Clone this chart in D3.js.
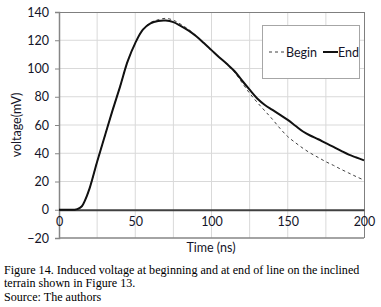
<!DOCTYPE html>
<html>
<head>
<meta charset="utf-8">
<script src="https://cdn.jsdelivr.net/npm/d3@7"></script>
<style>
  html, body { margin: 0; padding: 0; background: #fff; }
  svg { display: block; }
</style>
</head>
<body>
<svg id="chart" width="381" height="307"></svg>
<script>
// ---- data ----
const timeNs = [0, 5, 10, 12, 15, 17, 20, 25, 30, 35, 40, 45, 50, 55, 60, 65, 70, 75, 80, 85, 90, 95, 100, 105, 110, 115, 120, 125, 130, 135, 140, 145, 150, 155, 160, 165, 170, 175, 180, 185, 190, 195, 200];
const endValues = [0, 0, 0, 0.4, 2.5, 6.5, 15, 34, 52, 70, 87, 105, 118, 127.5, 132, 133.7, 134, 132.8, 130, 126.8, 122.8, 118, 113, 108, 103.3, 98.2, 91.5, 85, 78.8, 74.2, 70.7, 67.2, 63.6, 59.5, 55.4, 52.4, 49.9, 47.1, 44.5, 41.7, 39, 37, 35];
const beginValues = [0, 0, 0, 0.4, 2.5, 6.5, 15, 34, 52, 70, 87, 105, 118, 127.8, 132.5, 134.5, 135.5, 134.2, 131.2, 127.6, 123.2, 118, 113, 108, 103, 97.5, 90, 82.5, 76, 70, 64, 57.5, 51.8, 47.5, 43.5, 40, 37, 34, 31.4, 28.6, 26, 23.4, 21];
const xTicks = [0, 50, 100, 150, 200];
const yTicks = [-20, 0, 20, 40, 60, 80, 100, 120, 140];
const xGrid = [25, 50, 75, 100, 125, 150, 175];
const seriesNames = ["Begin", "End"];
const captionLines = [
  "Figure 14. Induced voltage at beginning and at end of line on the inclined",
  "terrain shown in Figure 13.",
  "Source: The authors"
];

(function () {
// ---- layout ----
const svg = d3.select("#chart");
const pLeft = 59, pRight = 364, pTop = 12, pBottom = 238;
const x = d3.scaleLinear().domain([0, 200]).range([pLeft, pRight]);
const y = d3.scaleLinear().domain([-20, 140]).range([pBottom, pTop]);
const chartFont = "Lato, 'Open Sans', sans-serif";
const textColor = "#141428";

// grid
svg.append("g").selectAll("line").data(yTicks.filter(d => d !== 0 && d !== -20 && d !== 140)).enter()
  .append("line").attr("x1", pLeft).attr("x2", pRight)
  .attr("y1", d => y(d)).attr("y2", d => y(d))
  .attr("stroke", "#d9d9d9").attr("stroke-width", 1);
svg.append("g").selectAll("line").data(xGrid).enter()
  .append("line").attr("y1", pTop).attr("y2", pBottom)
  .attr("x1", d => x(d)).attr("x2", d => x(d))
  .attr("stroke", "#d9d9d9").attr("stroke-width", 1);

// plot border top/right
svg.append("line").attr("x1", pLeft).attr("x2", pRight).attr("y1", pTop + 0.5).attr("y2", pTop + 0.5)
  .attr("stroke", "#7f7f7f").attr("stroke-width", 1);
svg.append("line").attr("x1", pRight + 0.5).attr("x2", pRight + 0.5).attr("y1", pTop).attr("y2", pBottom)
  .attr("stroke", "#7f7f7f").attr("stroke-width", 1);

// y axis
const yAxis = d3.axisLeft(y).tickValues(yTicks).tickSize(4).tickPadding(6).tickFormat(d3.format("d"));
const gy = svg.append("g").attr("transform", `translate(${pLeft},0)`).call(yAxis);
gy.select(".domain").attr("stroke", "#868686").attr("stroke-width", 1.5);
gy.selectAll(".tick line").attr("stroke", "#868686");
gy.selectAll("text").attr("font-family", chartFont).attr("font-size", 12.5).attr("fill", textColor);

// bottom border line at -20
svg.append("line").attr("x1", pLeft).attr("x2", pRight).attr("y1", pBottom).attr("y2", pBottom)
  .attr("stroke", "#868686").attr("stroke-width", 1.5);

// x axis at zero
const xAxis = d3.axisBottom(x).tickValues(xTicks).tickSize(0).tickPadding(7).tickFormat(d3.format("d"));
const gx = svg.append("g").attr("transform", `translate(0,${y(0)})`).call(xAxis);
gx.select(".domain").attr("stroke", "#404040").attr("stroke-width", 2);
gx.selectAll("text").attr("font-family", chartFont).attr("font-size", 12.5).attr("fill", textColor);

// lines
const line = d3.line().x((d, i) => x(timeNs[i])).y(d => y(d)).curve(d3.curveCatmullRom.alpha(0.5));
svg.append("path").datum(beginValues).attr("d", line)
  .attr("fill", "none").attr("stroke", "#404040").attr("stroke-width", 1).attr("stroke-dasharray", "3,3");
svg.append("path").datum(endValues).attr("d", line)
  .attr("fill", "none").attr("stroke", "#111").attr("stroke-width", 2);

// axis titles
svg.append("text").attr("x", 211).attr("y", 252).attr("text-anchor", "middle")
  .attr("font-family", chartFont).attr("font-size", 12.5).attr("fill", textColor).text("Time (ns)");
svg.append("text").attr("transform", `translate(21,${(pTop + pBottom) / 2}) rotate(-90)`)
  .attr("text-anchor", "middle")
  .attr("font-family", chartFont).attr("font-size", 12.5).attr("fill", textColor).text("voltage(mV)");

// legend
const lg = svg.append("g");
lg.append("rect").attr("x", 262.5).attr("y", 25.5).attr("width", 97).attr("height", 53)
  .attr("fill", "#fff").attr("stroke", "#a6a6a6");
lg.append("line").attr("x1", 269).attr("x2", 284).attr("y1", 52).attr("y2", 52)
  .attr("stroke", "#404040").attr("stroke-width", 1).attr("stroke-dasharray", "3,3");
lg.append("text").attr("x", 286).attr("y", 56.5).attr("font-family", chartFont).attr("font-size", 12.5)
  .attr("fill", textColor).text(seriesNames[0]);
lg.append("line").attr("x1", 323).attr("x2", 338).attr("y1", 52).attr("y2", 52)
  .attr("stroke", "#111").attr("stroke-width", 2);
lg.append("text").attr("x", 338).attr("y", 56.5).attr("font-family", chartFont).attr("font-size", 12.5)
  .attr("fill", textColor).text(seriesNames[1]);

// caption
svg.append("g").selectAll("text").data(captionLines).enter().append("text")
  .attr("x", 4).attr("y", (d, i) => 273.5 + i * 13.5)
  .attr("font-family", "'Liberation Serif', 'Times New Roman', serif").attr("font-size", 12.1)
  .attr("fill", "#000").text(d => d);
})();
</script>
</body>
</html>
